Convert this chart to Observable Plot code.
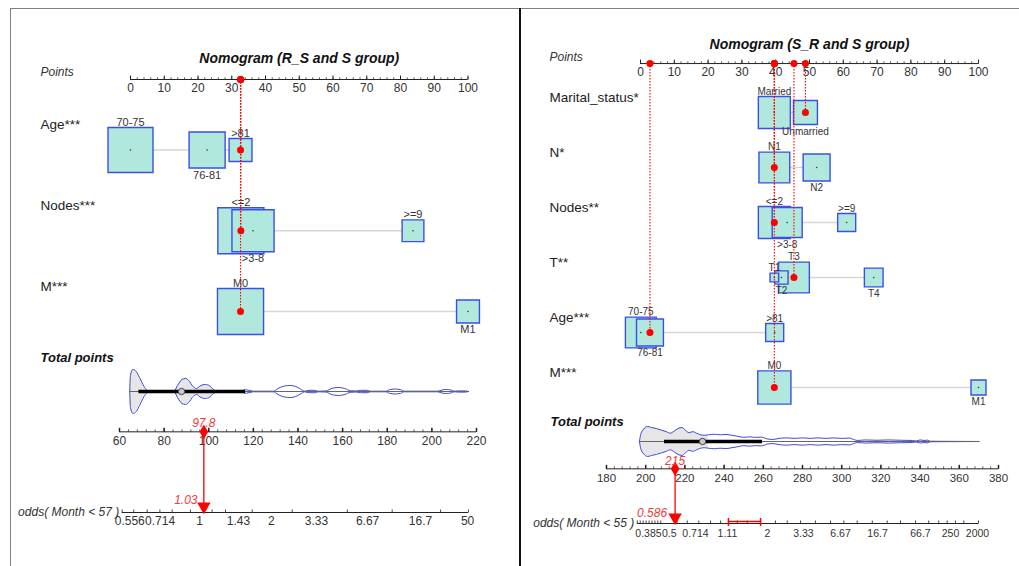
<!DOCTYPE html>
<html><head><meta charset="utf-8">
<script src="https://cdn.jsdelivr.net/npm/d3@7"></script>
<script src="https://cdn.jsdelivr.net/npm/@observablehq/plot@0.6"></script>
<style>
html,body{margin:0;padding:0;background:#fff;}
#fig{position:relative;width:1019px;height:566px;overflow:hidden;background:#fff;font-family:"Liberation Sans",Arial,sans-serif;}
#fig svg{position:absolute;left:0;top:0;}
.frame-top{position:absolute;left:10px;top:8px;width:1009px;height:0;border-top:1.5px solid #808080;}
.frame-left{position:absolute;left:10px;top:8px;width:0;height:560px;border-left:1.5px solid #808080;}
.divider{position:absolute;left:519px;top:8px;width:0;height:560px;border-left:2px solid #111;}
</style></head>
<body><div id="fig"><div class="frame-top"></div><div class="frame-left"></div><div class="divider"></div></div>
<script>
// ================= DATA =================
// ---- Left nomogram ----
const leftTitle = "Nomogram (R_S and S group)";
const leftVariables = ["Age***", "Nodes***", "M***"];
const leftVariable = ["Age***", "Age***", "Age***", "Nodes***", "Nodes***", "Nodes***", "M***", "M***"];
const leftLevel = ["70-75", "76-81", ">81", "<=2", ">3-8", ">=9", "M0", "M1"];
const leftPoints = [0, 22.7, 32.6, 32.7, 36.3, 83.7, 32.6, 100];
const leftFreq = [0.81, 0.52, 0.21, 0.85, 0.71, 0.19, 0.85, 0.21];
const leftSelected = [">81", "<=2", "M0"];
const leftTotal = 97.8;
const leftOddsValue = "1.03";
const leftOddsTitle = "odds( Month < 57 )";
const leftTotalTicks = [60, 80, 100, 120, 140, 160, 180, 200, 220];
const leftOddsLabels = ["0.556", "0.714", "1", "1.43", "2", "3.33", "6.67", "16.7", "50"];
const leftOddsAt = [64.6, 78.2, 95.9, 113.3, 128.1, 148.3, 171.2, 194.9, 216.0];
const leftOddsTicks = [61.2, 66.4, 72.4, 78.1, 83.6, 91.8, 101.5, 107.5, 119.5, 137.4, 162.1, 182.2, 203.9, 216.4];
const leftViolinTP = [64.6, 64.9, 66, 67.5, 69, 70.5, 72, 73.5, 80, 84.5, 86, 88, 89.5, 91, 93, 94.5, 96.5, 98.5, 100.5, 102, 103.5, 115, 116, 118, 120, 129, 131, 134, 136.5, 139, 141.5, 143, 145, 147.5, 149, 152.5, 155, 158, 161, 163.5, 166, 168, 171, 172.5, 179.5, 181, 183.5, 186, 187.5, 202.5, 204.5, 206.5, 208.5, 210, 212, 215, 216.4];
const leftViolinDensity = [0, 16, 22, 20, 14, 7, 2, 0.5, 0.3, 0.5, 6, 12, 13, 11, 5, 3, 6, 7, 5.5, 2, 0.5, 0.3, 1.8, 1.2, 0.3, 0.3, 3, 5.5, 6, 5, 2, 0.3, 1.2, 1.2, 0.3, 0.5, 3, 4, 3, 0.8, 0.5, 1.2, 1.2, 0.3, 0.3, 1.8, 2.5, 1.8, 0.3, 0.3, 1.5, 2, 1.5, 0.3, 0.6, 0.6, 0];
const leftBox = {q1: 68.7, median: 87.8, q3: 116.5, fillTo: 103.5};

// ---- Right nomogram ----
const rightTitle = "Nomogram (S_R and S group)";
const rightVariables = ["Marital_status*", "N*", "Nodes**", "T**", "Age***", "M***"];
const rightVariable = ["Marital_status*", "Marital_status*", "N*", "N*", "Nodes**", "Nodes**", "Nodes**", "T**", "T**", "T**", "T**", "Age***", "Age***", "Age***", "M***", "M***"];
const rightLevel = ["Married", "Unmarried", "N1", "N2", "<=2", ">3-8", ">=9", "T1", "T2", "T3", "T4", "70-75", "76-81", ">81", "M0", "M1"];
const rightPoints = [39.6, 48.8, 39.6, 52.1, 39.6, 43.4, 61.0, 39.6, 41.7, 45.4, 69.0, 0.1, 2.8, 39.7, 39.6, 100];
const rightFreq = [0.41, 0.23, 0.38, 0.29, 0.41, 0.36, 0.13, 0.03, 0.07, 0.38, 0.14, 0.38, 0.29, 0.13, 0.44, 0.09];
const rightSelected = ["Unmarried", "N1", "<=2", "T3", "76-81", "M0"];
const rightTotal = 215;
const rightOddsValue = "0.586";
const rightOddsTitle = "odds( Month < 55 )";
const rightTotalTicks = [180, 200, 220, 240, 260, 280, 300, 320, 340, 360, 380];
const rightOddsLabels = ["0.385", "0.5", "0.714", "1.11", "2", "3.33", "6.67", "16.7", "66.7", "250", "2000"];
const rightOddsAt = [201.4, 212.0, 225.4, 241.7, 262.1, 280.5, 299.4, 318.3, 340.2, 355.5, 369.3];
const rightOddsTicks = [195.7, 197.2, 198.7, 200.2, 201.7, 203.2, 204.7, 206.2, 207.7, 216, 221.2, 227.1, 233.1, 238.2, 246.7, 251.8, 266.2, 272.2, 279, 286.6, 294.3, 301.1, 307.9, 315.6, 323.2, 330, 337.7, 344.4, 349.5, 353.8, 358, 362.3, 369.8];
const rightCI = [242.2, 258.6];
const rightViolinTP = [196.8, 197.5, 199, 201, 203, 205.5, 208, 210.5, 212.5, 214.5, 216.5, 218.5, 220.5, 222, 224, 226, 228, 230, 232, 235, 238, 241, 244, 247, 250, 253, 256, 259, 262, 265, 268, 272, 276, 280, 284, 288, 292, 296, 300, 304, 306, 308, 312, 318, 324, 330, 336, 338, 340, 342, 344, 345, 350, 360, 370];
const rightViolinDensity = [0, 7, 12, 14.5, 13.5, 12.5, 11, 9.5, 8, 10, 12.5, 13.5, 10.5, 8.5, 9.5, 8, 6.5, 6, 6.5, 7, 6.5, 6.8, 6, 5, 4, 4.5, 4, 4.2, 2.5, 2, 3, 3.5, 3, 3.5, 3, 3.5, 3, 3.5, 3, 3.3, 2, 1, 1.5, 1.2, 1.5, 1.2, 1, 0.5, 1.5, 1, 1.3, 0.3, 0.2, 0.1, 0];
const rightBox = {q1: 209.6, median: 229, q3: 259.6, fillTo: 232};

// ================= STYLE =================
const FONT = "Liberation Sans, Arial, sans-serif";
const RED = "#ff0000";
const RED_TEXT = "#ef3b3b";
const BOX_FILL = "#b0e8de";
const BOX_STROKE = "#3c4fe2";
const VIOLIN_STROKE = "#3f48d8";
const R_MAX = 28.2;

const tickUp = {draw(ctx, size) { const l = Math.sqrt(size / Math.PI); ctx.moveTo(0, 0); ctx.lineTo(0, -l); }};
const capSym = {draw(ctx, size) { const l = Math.sqrt(size / Math.PI); ctx.moveTo(0, -l); ctx.lineTo(0, l * 0.45); }};

function mount(svg) {
  svg.style.position = "absolute"; svg.style.left = "0px"; svg.style.top = "0px";
  svg.style.background = "transparent"; svg.style.maxWidth = "none"; svg.style.overflow = "visible";
  document.getElementById("fig").appendChild(svg);
}

function upper(cfg) {
  const rows = cfg.variables.map((v, i) => ({variable: v, row: i + 1}));
  const counters = {};
  const levels = cfg.variable.map((v, i) => {
    counters[v] = (counters[v] ?? -1) + 1;
    return {variable: v, row: cfg.variables.indexOf(v) + 1, level: cfg.level[i], points: cfg.points[i], freq: cfg.freq[i], k: counters[v]};
  });
  const selected = rows.map(r => levels.find(d => d.variable === r.variable && d.level === cfg.selected[r.row - 1]));
  const A = cfg.axisRow;
  const minor = d3.range(0, 100.001, 2);
  const major = [0, 10, 20, 30, 40, 50, 60, 70, 80, 90, 100];
  const labelMarks = levels.map(d => {
    const half = R_MAX * Math.sqrt(d.freq) * Math.sqrt(Math.PI) / 2;
    return Plot.text([d], {x: "points", y: "row", text: "level", dy: d.k % 2 === 0 ? -(half + 5) : (half + 7), fontSize: cfg.levelFont, fill: "#333"});
  });
  return Plot.plot({
    width: 1019, height: 566, margin: 0,
    style: {fontFamily: FONT, background: "transparent"},
    x: {domain: [0, 100], range: cfg.xRange, axis: null},
    y: {domain: [1, cfg.variables.length], range: cfg.yRange, axis: null},
    r: {type: "sqrt", domain: [0, 1], range: [0, R_MAX]},
    marks: [
      Plot.text([cfg.title], {x: 50, y: A, dy: cfg.titleDy, fontSize: 14, fontWeight: "bold", fontStyle: "italic", fill: "#111"}),
      Plot.text(["Points"], {frameAnchor: "left", dx: cfg.labelX, y: A, dy: cfg.pointsDy, textAnchor: "start", fontSize: 12, fontStyle: "italic", fill: "#333"}),
      Plot.ruleY([A], {x1: 0, x2: 100, stroke: "#222", strokeWidth: 1}),
      Plot.dot(minor, {x: d => d, y: A, symbol: tickUp, r: 2.2, stroke: "#333", fill: "none", strokeWidth: 0.8}),
      Plot.dot(major, {x: d => d, y: A, symbol: tickUp, r: 4, stroke: "#222", fill: "none", strokeWidth: 1}),
      Plot.text(major, {x: d => d, y: A, dy: 9, text: d => String(d), fontSize: 12, fill: "#333"}),
      Plot.text(rows, {frameAnchor: "left", dx: cfg.labelX, y: "row", dy: cfg.rowLabelDy, text: "variable", textAnchor: "start", fontSize: 13.5, fill: "#222"}),
      Plot.line(levels, {x: "points", y: "row", z: "variable", sort: "points", stroke: "#d6d6d6", strokeWidth: 1.5}),
      Plot.dot(levels, {x: "points", y: "row", r: "freq", symbol: "square", fill: BOX_FILL, stroke: BOX_STROKE, strokeWidth: 1.4}),
      Plot.dot(levels, {x: "points", y: "row", r: 0.8, fill: "#333"}),
      ...labelMarks,
      Plot.ruleX(selected, {x: "points", y1: A, y2: "row", stroke: RED, strokeWidth: 1.1, strokeDasharray: "1.5,1.5"}),
      Plot.dot(selected, {x: "points", y: "row", r: 3.5, fill: RED}),
      Plot.dot(selected, {x: "points", y: A, r: 3.5, fill: RED})
    ]
  });
}

function lower(cfg) {
  const maxD = d3.max(cfg.density);
  const violin = cfg.tp.map((t, i) => ({tp: t, h: cfg.density[i] / maxD * cfg.halfMaxPx / cfg.rowPx}));
  const vmin = d3.min(cfg.tp), vmax = d3.max(cfg.tp);
  const [t0, t1] = d3.extent(cfg.totalTicks);
  const minor = d3.range(t0, t1 + 0.001, 4);
  const marks = [
    Plot.text(["Total points"], {frameAnchor: "left", dx: cfg.labelX, y: 0, dy: cfg.totalLabelDy, textAnchor: "start", fontSize: 13, fontWeight: "bold", fontStyle: "italic", fill: "#111"}),
    Plot.areaY(violin.filter(d => d.tp <= cfg.box.fillTo), {x: "tp", y1: d => -d.h, y2: d => d.h, fill: "#e6e6e6", curve: "monotone-x"}),
    Plot.line(violin, {x: "tp", y: d => -d.h, stroke: VIOLIN_STROKE, strokeWidth: 1, curve: "monotone-x"}),
    Plot.line(violin, {x: "tp", y: d => d.h, stroke: VIOLIN_STROKE, strokeWidth: 1, curve: "monotone-x"}),
    Plot.ruleY([0], {x1: vmin, x2: vmax, stroke: "#666", strokeWidth: 1}),
    Plot.ruleY([0], {x1: cfg.box.q1, x2: cfg.box.q3, stroke: "#000", strokeWidth: 3.5}),
    Plot.dot([cfg.box.median], {x: d => d, y: 0, r: 3.2, fill: "#c9c9c9", stroke: "#444", strokeWidth: 1}),
    // total points axis
    Plot.ruleY([1], {x1: t0, x2: t1, stroke: "#222"}),
    Plot.dot(minor, {x: d => d, y: 1, symbol: tickUp, r: 2.5, stroke: "#333", fill: "none", strokeWidth: 0.8}),
    Plot.dot(cfg.totalTicks, {x: d => d, y: 1, symbol: tickUp, r: 4, stroke: "#222", fill: "none"}),
    Plot.text(cfg.totalTicks, {x: d => d, y: 1, dy: 9, text: d => String(d), fontSize: cfg.tickFont, fill: "#333"}),
    // odds axis
    Plot.ruleY([3], {x1: d3.min(cfg.oddsTicks), x2: d3.max(cfg.oddsTicks), stroke: "#222"}),
    Plot.dot(cfg.oddsTicks, {x: d => d, y: 3, symbol: tickUp, r: 3, stroke: "#333", fill: "none", strokeWidth: 0.9}),
    Plot.text(cfg.oddsLabels, {x: (d, i) => cfg.oddsAt[i], y: 3, dy: cfg.oddsLabelDy, text: d => d, fontSize: cfg.oddsFont, fill: "#333"}),
    Plot.text([cfg.oddsTitle], {x: d3.min(cfg.oddsTicks), y: 3, dx: -3, dy: 0, textAnchor: "end", fontSize: 12, fontStyle: "italic", fill: "#333"}),
    // patient
    Plot.ruleX([cfg.total], {x: d => d, y1: 1, y2: 3, stroke: RED, strokeWidth: 1.3}),
    Plot.dot([cfg.total], {x: d => d, y: 1, symbol: "diamond", r: 4.5, fill: RED}),
    Plot.dot([cfg.total], {x: d => d, y: 3, dy: -6, symbol: "triangle", rotate: 180, r: 5, fill: RED}),
    Plot.text([cfg.total], {x: d => d, y: 1, dy: cfg.totalValueDy, text: d => String(d), fontSize: 12, fontStyle: "italic", fill: RED_TEXT}),
    Plot.text([cfg.oddsValue], {x: cfg.total, y: 3, dx: cfg.oddsValueDx, dy: cfg.oddsValueDy, text: d => d, fontSize: 12, fontStyle: "italic", fill: RED_TEXT})
  ];
  if (cfg.ci) {
    marks.push(
      Plot.ruleY([3], {x1: cfg.ci[0], x2: cfg.ci[1], dy: -2, stroke: RED, strokeWidth: 1.5}),
      Plot.dot(cfg.ci, {x: d => d, y: 3, symbol: capSym, r: 5.5, stroke: RED, fill: "none", strokeWidth: 1.5})
    );
  }
  return Plot.plot({
    width: 1019, height: 566, margin: 0,
    style: {fontFamily: FONT, background: "transparent"},
    x: {domain: cfg.xDomain, range: cfg.xRange, axis: null},
    y: {domain: [0, 3], range: cfg.yRange, axis: null},
    marks
  });
}

mount(upper({
  title: leftTitle, variables: leftVariables, variable: leftVariable, level: leftLevel, points: leftPoints, freq: leftFreq, selected: leftSelected,
  xRange: [130, 467.5], yRange: [149.5, 311], axisRow: 0.127, labelX: 40, rowLabelDy: -25, pointsDy: -7, titleDy: -21, levelFont: 11
}));
mount(upper({
  title: rightTitle, variables: rightVariables, variable: rightVariable, level: rightLevel, points: rightPoints, freq: rightFreq, selected: rightSelected,
  xRange: [640, 978], yRange: [112, 387], axisRow: 0.11, labelX: 549, rowLabelDy: -15, pointsDy: -6, titleDy: -19, levelFont: 10
}));
mount(lower({
  tp: leftViolinTP, density: leftViolinDensity, box: leftBox, halfMaxPx: 22, rowPx: 40.33,
  xDomain: [60, 220], xRange: [119, 476], yRange: [391, 512], labelX: 40, totalLabelDy: -34,
  totalTicks: leftTotalTicks, tickFont: 12, oddsTicks: leftOddsTicks, oddsLabels: leftOddsLabels, oddsAt: leftOddsAt, oddsFont: 12, oddsLabelDy: 9,
  oddsTitle: leftOddsTitle, total: leftTotal, oddsValue: leftOddsValue, totalValueDy: -9, oddsValueDx: -18, oddsValueDy: -12
}));
mount(lower({
  tp: rightViolinTP, density: rightViolinDensity, box: rightBox, halfMaxPx: 15, rowPx: 27.33,
  xDomain: [180, 380], xRange: [606, 998], yRange: [441, 523], labelX: 550, totalLabelDy: -20,
  totalTicks: rightTotalTicks, tickFont: 11.5, oddsTicks: rightOddsTicks, oddsLabels: rightOddsLabels, oddsAt: rightOddsAt, oddsFont: 10.5, oddsLabelDy: 10,
  oddsTitle: rightOddsTitle, total: rightTotal, oddsValue: rightOddsValue, totalValueDy: -8, oddsValueDx: -23, oddsValueDy: -10, ci: rightCI
}));
</script>
</body></html>
